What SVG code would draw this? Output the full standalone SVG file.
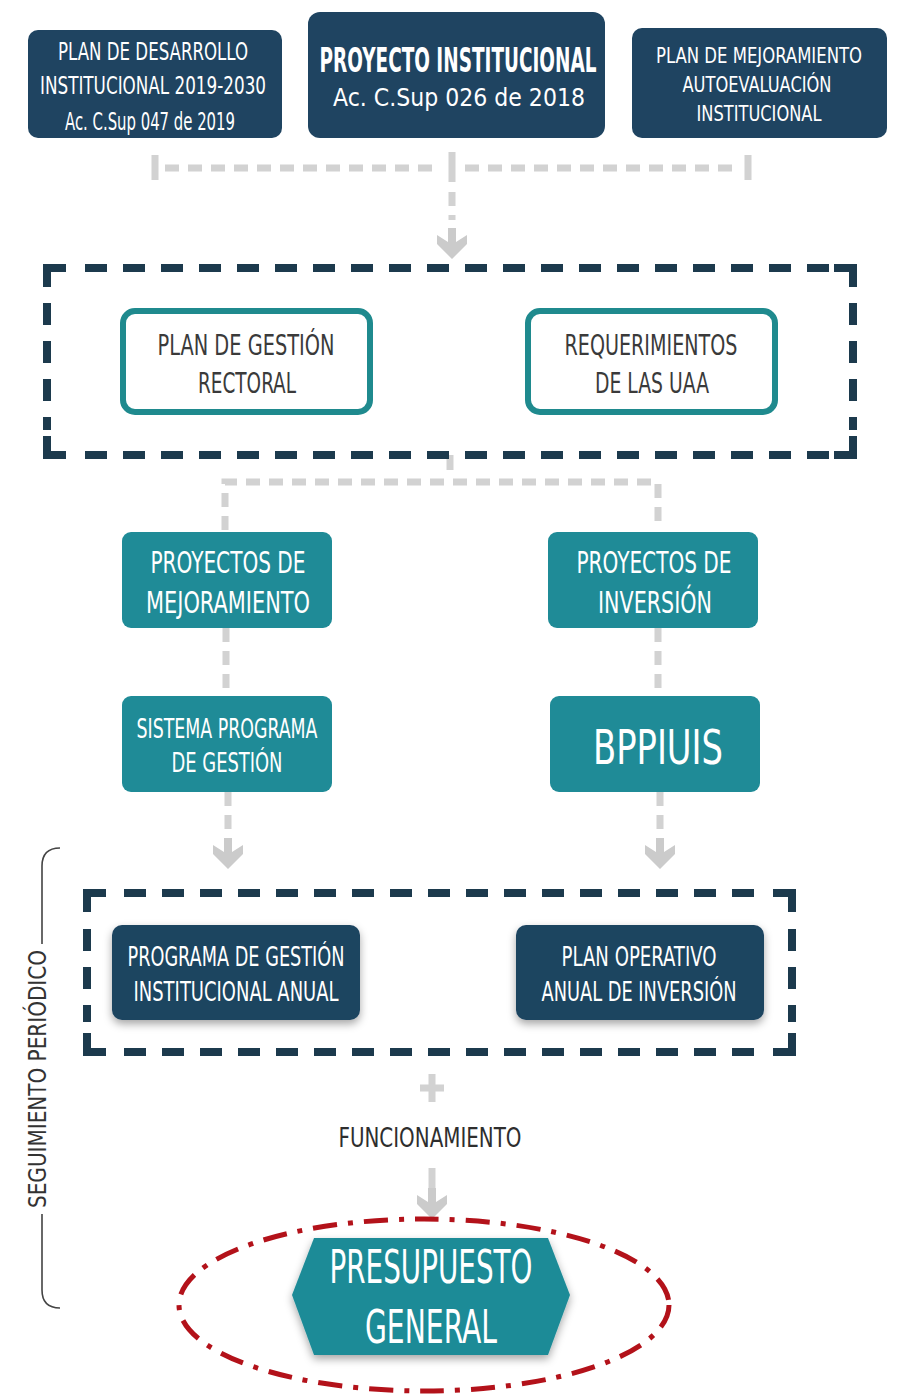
<svg xmlns="http://www.w3.org/2000/svg" width="898" height="1397" viewBox="0 0 898 1397">
<defs>
<style>
.navy{fill:#1f4461}
.teal{fill:#1f8b97}
.wbox{fill:#ffffff;stroke:#1f8a8e;stroke-width:6}
.t{font-family:"Liberation Sans Narrow","DejaVu Sans Condensed","Liberation Sans",sans-serif;text-anchor:middle}
.w{fill:#ffffff}
.d{fill:#3a3a3a}
.gc{fill:none;stroke:#d2d2d2;stroke-width:7;stroke-dasharray:14 9}
.gs{fill:none;stroke:#d2d2d2;stroke-width:7}
.dash{fill:none;stroke:#1c3a4d;stroke-width:8;stroke-dasharray:22 16}
.corner{fill:none;stroke:#1c3a4d;stroke-width:8}
</style>
<filter id="sh" x="-20%" y="-20%" width="140%" height="150%">
<feDropShadow dx="0" dy="4" stdDeviation="4" flood-color="#000" flood-opacity="0.35"/>
</filter>
<path id="arr" d="M-4 -18 H4 V-4 L15 -11 V-2 L0 13 L-15 -2 V-11 L-4 -4 Z" fill="#cbcbcb"/>
</defs>
<rect x="0" y="0" width="898" height="1397" fill="#ffffff"/>

<g id="connectors">
<path class="gc" d="M165 168 H440 M465 168 H740"/>
<path class="gs" d="M155 155 V180 M452 152 V182 M748 155 V180"/>
<path class="gc" d="M452 192 V220"/>
<use href="#arr" x="452" y="246"/>
<path class="gs" d="M450 455 V470"/>
<path class="gc" d="M225 530 V482 H658 V530"/>
<path class="gc" d="M226 628 V696"/>
<path class="gc" d="M658 628 V696"/>
<path class="gc" d="M228 792 V836"/>
<path class="gc" d="M660 792 V836"/>
<use href="#arr" x="228" y="856"/>
<use href="#arr" x="660" y="856"/>
<path class="gs" d="M432 1074 V1102 M420 1088 H444"/>
<path class="gs" d="M432 1168 V1190"/>
<use href="#arr" x="432" y="1206"/>
</g>

<g id="box-top-left">
<rect class="navy" x="28" y="30" width="254" height="108" rx="10"/>
<text class="t w" x="153" y="60" font-size="24" textLength="190" lengthAdjust="spacingAndGlyphs">PLAN DE DESARROLLO</text>
<text class="t w" x="153" y="94" font-size="24" textLength="226" lengthAdjust="spacingAndGlyphs">INSTITUCIONAL 2019-2030</text>
<text class="t w" x="150" y="130" font-size="24" textLength="170" lengthAdjust="spacingAndGlyphs">Ac. C.Sup 047 de 2019</text>
</g>

<g id="box-top-center">
<rect class="navy" x="308" y="12" width="297" height="126" rx="12"/>
<text class="t w" x="458" y="72" font-size="33" font-weight="bold" textLength="277" lengthAdjust="spacingAndGlyphs">PROYECTO INSTITUCIONAL</text>
<text class="t w" x="459" y="106" font-size="25" textLength="252" lengthAdjust="spacingAndGlyphs">Ac. C.Sup 026 de 2018</text>
</g>

<g id="box-top-right">
<rect class="navy" x="632" y="28" width="255" height="110" rx="10"/>
<text class="t w" x="759" y="63" font-size="22" textLength="206" lengthAdjust="spacingAndGlyphs">PLAN DE MEJORAMIENTO</text>
<text class="t w" x="757" y="92" font-size="22" textLength="149" lengthAdjust="spacingAndGlyphs">AUTOEVALUACIÓN</text>
<text class="t w" x="759" y="121" font-size="22" textLength="125" lengthAdjust="spacingAndGlyphs">INSTITUCIONAL</text>
</g>

<g id="group-box-1">
<path class="dash" d="M85 268 H830 M85 455 H830 M47 303 V430 M853 303 V430"/>
<path class="corner" d="M47 287 V268 H66 M834 268 H853 V287 M47 436 V455 H66 M834 455 H853 V436"/>
</g>

<g id="box-plan-gestion">
<rect class="wbox" x="123" y="311" width="247" height="101" rx="12"/>
<text class="t d" x="246" y="355" font-size="29" textLength="177" lengthAdjust="spacingAndGlyphs">PLAN DE GESTIÓN</text>
<text class="t d" x="247" y="393" font-size="29" textLength="98" lengthAdjust="spacingAndGlyphs">RECTORAL</text>
</g>

<g id="box-requerimientos">
<rect class="wbox" x="528" y="311" width="247" height="101" rx="12"/>
<text class="t d" x="651" y="355" font-size="29" textLength="173" lengthAdjust="spacingAndGlyphs">REQUERIMIENTOS</text>
<text class="t d" x="652" y="393" font-size="29" textLength="114" lengthAdjust="spacingAndGlyphs">DE LAS UAA</text>
</g>

<g id="box-proy-mejoramiento">
<rect class="teal" x="122" y="532" width="210" height="96" rx="9"/>
<text class="t w" x="228" y="573" font-size="30" textLength="155" lengthAdjust="spacingAndGlyphs">PROYECTOS DE</text>
<text class="t w" x="228" y="613" font-size="30" textLength="164" lengthAdjust="spacingAndGlyphs">MEJORAMIENTO</text>
</g>

<g id="box-proy-inversion">
<rect class="teal" x="548" y="532" width="210" height="96" rx="9"/>
<text class="t w" x="654" y="573" font-size="30" textLength="155" lengthAdjust="spacingAndGlyphs">PROYECTOS DE</text>
<text class="t w" x="655" y="613" font-size="30" textLength="114" lengthAdjust="spacingAndGlyphs">INVERSIÓN</text>
</g>

<g id="box-sistema">
<rect class="teal" x="122" y="696" width="210" height="96" rx="9"/>
<text class="t w" x="227" y="738" font-size="27" textLength="181" lengthAdjust="spacingAndGlyphs">SISTEMA PROGRAMA</text>
<text class="t w" x="227" y="772" font-size="27" textLength="111" lengthAdjust="spacingAndGlyphs">DE GESTIÓN</text>
</g>

<g id="box-bppiuis">
<rect class="teal" x="550" y="696" width="210" height="96" rx="9"/>
<text class="t w" x="658" y="764" font-size="48" textLength="130" lengthAdjust="spacingAndGlyphs">BPPIUIS</text>
</g>

<g id="group-box-2">
<path class="dash" d="M124 893 H770 M124 1052 H770 M87 929 V1022 M792 929 V1022"/>
<path class="corner" d="M87 912 V893 H106 M773 893 H792 V912 M87 1033 V1052 H106 M773 1052 H792 V1033"/>
</g>

<g id="box-programa-anual">
<rect class="navy" x="112" y="925" width="248" height="95" rx="10" filter="url(#sh)"/>
<text class="t w" x="236" y="966" font-size="27" textLength="217" lengthAdjust="spacingAndGlyphs">PROGRAMA DE GESTIÓN</text>
<text class="t w" x="236" y="1001" font-size="27" textLength="205" lengthAdjust="spacingAndGlyphs">INSTITUCIONAL ANUAL</text>
</g>

<g id="box-plan-operativo">
<rect class="navy" x="516" y="925" width="248" height="95" rx="10" filter="url(#sh)"/>
<text class="t w" x="639" y="966" font-size="27" textLength="155" lengthAdjust="spacingAndGlyphs">PLAN OPERATIVO</text>
<text class="t w" x="639" y="1001" font-size="27" textLength="195" lengthAdjust="spacingAndGlyphs">ANUAL DE INVERSIÓN</text>
</g>

<g id="label-funcionamiento">
<text class="t" x="430" y="1147" font-size="27" fill="#2e2e2e" textLength="183" lengthAdjust="spacingAndGlyphs">FUNCIONAMIENTO</text>
</g>

<g id="box-presupuesto">
<polygon class="teal" points="292,1295 314,1238 548,1238 570,1295 548,1355 314,1355" filter="url(#sh)"/>
<text class="t w" x="431" y="1283" font-size="46" textLength="203" lengthAdjust="spacingAndGlyphs">PRESUPUESTO</text>
<text class="t w" x="431" y="1343" font-size="46" textLength="132" lengthAdjust="spacingAndGlyphs">GENERAL</text>
</g>

<g id="highlight">
<ellipse cx="424" cy="1305" rx="245" ry="86" fill="none" stroke="#b3121a" stroke-width="5" stroke-dasharray="24 11 5 11"/>
</g>

<g id="seguimiento">
<path d="M60 848 Q42 848 42 866 V944 M42 1214 V1290 Q42 1308 60 1308" fill="none" stroke="#444" stroke-width="1.6"/>
<text class="t" transform="translate(46 1079) rotate(-90)" font-size="24" fill="#333" textLength="258" lengthAdjust="spacingAndGlyphs">SEGUIMIENTO PERIÓDICO</text>
</g>
</svg>
